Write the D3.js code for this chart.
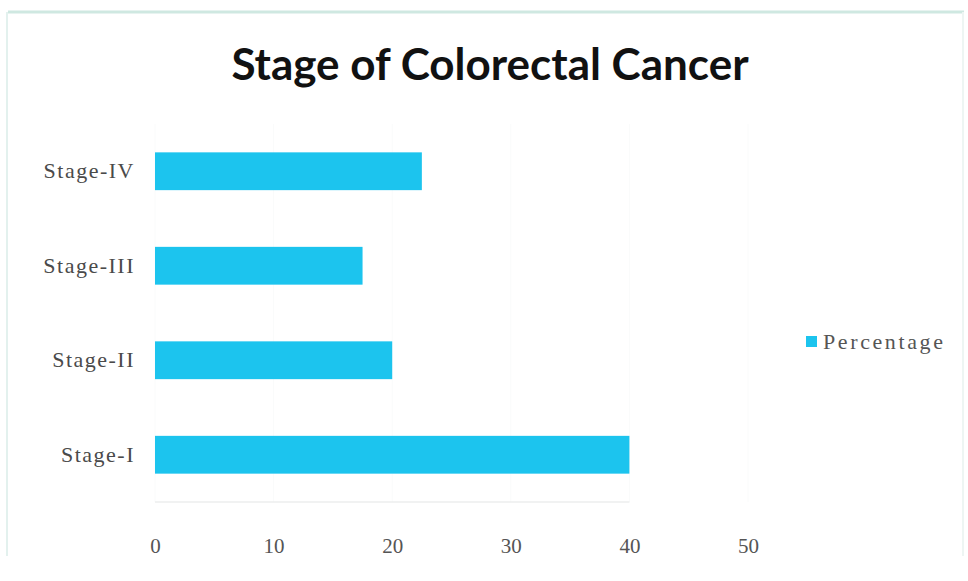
<!DOCTYPE html>
<html>
<head>
<meta charset="utf-8">
<script src="https://cdn.jsdelivr.net/npm/d3@7"></script>
<style>
  html, body { margin: 0; padding: 0; background: #fff; }
  svg { display: block; }
</style>
</head>
<body>
<svg id="chart" width="968" height="581"></svg>
<script>
// Stage distribution of colorectal cancer cases (percent)
const categories = ["Stage-I", "Stage-II", "Stage-III", "Stage-IV"];
const percentages = [40, 20, 17.5, 22.5];
const xTicks = [0, 10, 20, 30, 40, 50];
const seriesName = "Percentage";
const chartTitle = "Stage of Colorectal Cancer";

const svg = d3.select("#chart");
const W = 968, H = 581;
const margin = { left: 155, right: 220, top: 124, bottom: 79 };
const barColor = "#1cc4ee";
const labelFont = "'Liberation Serif', 'DejaVu Serif', serif";

// chart frame: top rule and side rules
const frame = svg.append("g").attr("fill", "none");
frame.append("line")
  .attr("x1", 8).attr("x2", W - 4).attr("y1", 12).attr("y2", 12)
  .attr("stroke", "#cfe8e1").attr("stroke-width", 3);
frame.append("line")
  .attr("x1", 7).attr("x2", 7).attr("y1", 12).attr("y2", 556)
  .attr("stroke", "#e3f1ee").attr("stroke-width", 2);
frame.append("line")
  .attr("x1", W - 5).attr("x2", W - 5).attr("y1", 12).attr("y2", 556)
  .attr("stroke", "#eef5f3").attr("stroke-width", 2);

const x = d3.scaleLinear().domain([0, 50]).range([margin.left, 748]);
const y = d3.scaleBand()
  .domain(categories.slice().reverse())
  .range([margin.top, H - margin.bottom])
  .paddingInner(0.6).paddingOuter(0.3);

// faint vertical gridlines
svg.append("g").selectAll("line")
  .data(xTicks)
  .join("line")
  .attr("x1", d => x(d)).attr("x2", d => x(d))
  .attr("y1", margin.top).attr("y2", H - margin.bottom)
  .attr("stroke", "#fafbfb").attr("stroke-width", 1);

// baseline
svg.append("line")
  .attr("x1", x(0)).attr("x2", x(40))
  .attr("y1", H - margin.bottom).attr("y2", H - margin.bottom)
  .attr("stroke", "#eceeee").attr("stroke-width", 1.5);

// bars
svg.append("g").selectAll("rect")
  .data(categories.map((c, i) => ({ c, v: percentages[i] })))
  .join("rect")
  .attr("x", x(0))
  .attr("y", d => y(d.c))
  .attr("width", d => x(d.v) - x(0))
  .attr("height", y.bandwidth())
  .attr("fill", barColor);

// category axis
const yAxis = svg.append("g")
  .attr("transform", `translate(${margin.left - 20},0)`)
  .call(d3.axisLeft(y).tickSize(0).tickPadding(0));
yAxis.select(".domain").remove();
yAxis.selectAll("text")
  .attr("font-family", labelFont)
  .attr("font-size", 22)
  .attr("letter-spacing", "1.5px")
  .attr("fill", "#4a4a4a")
  .attr("dy", "0.32em");

// value axis
const xAxis = svg.append("g")
  .attr("transform", `translate(0,546)`)
  .call(d3.axisBottom(x).tickValues(xTicks).tickSize(0).tickPadding(0));
xAxis.select(".domain").remove();
xAxis.selectAll("text")
  .attr("font-family", labelFont)
  .attr("font-size", 21)
  .attr("fill", "#555")
  .attr("dy", "0.32em");

// title
svg.append("text")
  .attr("x", 490).attr("y", 80)
  .attr("text-anchor", "middle")
  .attr("font-family", "Lato, 'Open Sans', sans-serif")
  .attr("font-weight", 700)
  .attr("font-size", 44)
  .attr("fill", "#111")
  .text(chartTitle);

// legend
const legend = svg.append("g").attr("transform", "translate(806,342)");
legend.append("rect")
  .attr("x", 0).attr("y", -6)
  .attr("width", 11).attr("height", 11)
  .attr("fill", barColor);
legend.append("text")
  .attr("x", 17).attr("y", 0)
  .attr("dy", "0.32em")
  .attr("font-family", labelFont)
  .attr("font-size", 22)
  .attr("letter-spacing", "2.6px")
  .attr("fill", "#555")
  .text(seriesName);
</script>
</body>
</html>
